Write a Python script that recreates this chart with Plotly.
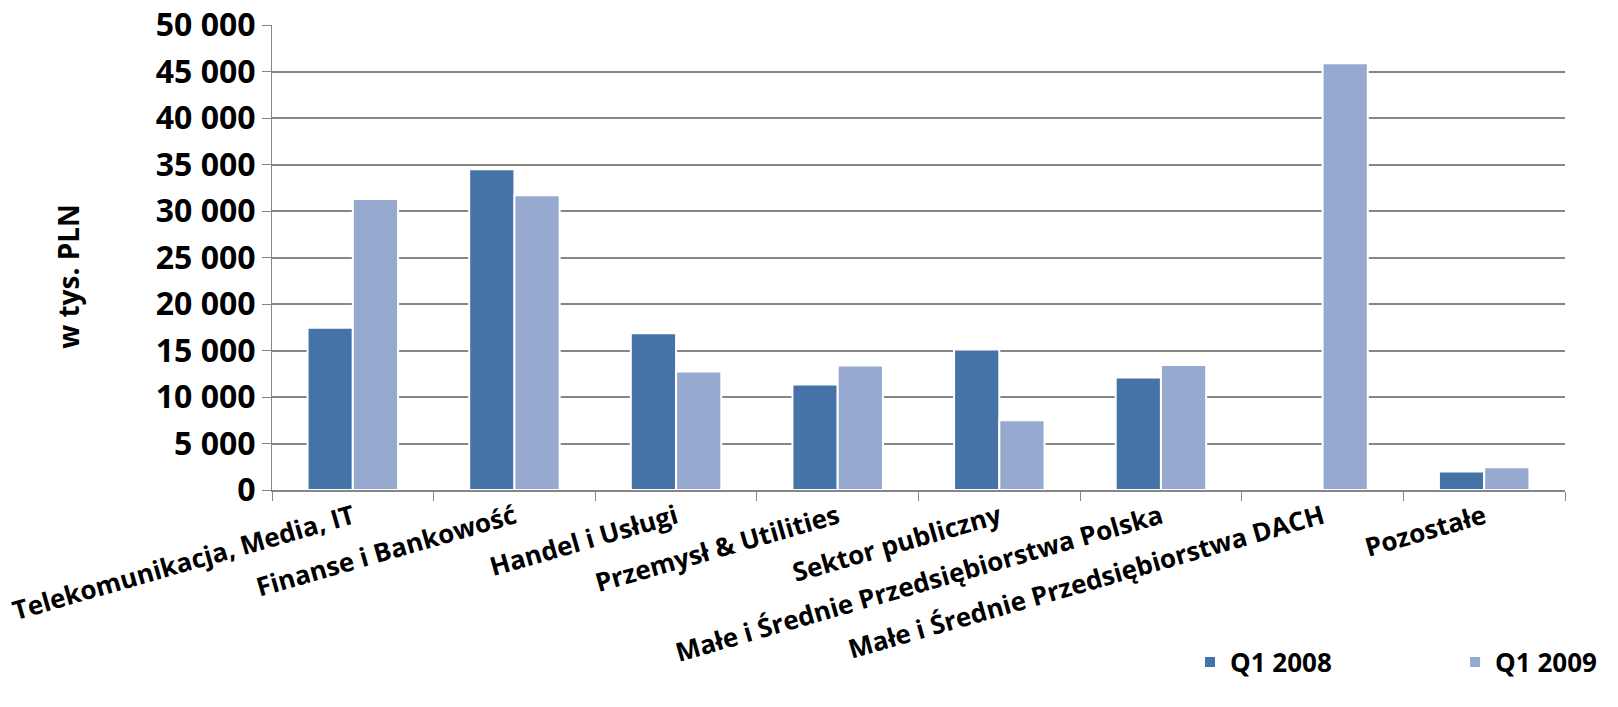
import plotly.graph_objects as go

categories = [
    "Telekomunikacja, Media, IT",
    "Finanse i Bankowość",
    "Handel i Usługi",
    "Przemysł & Utilities",
    "Sektor publiczny",
    "Małe i Średnie Przedsiębiorstwa Polska",
    "Małe i Średnie Przedsiębiorstwa DACH",
    "Pozostałe",
]
q1_2008 = [17450, 34500, 16850, 11350, 15100, 12100, None, 2000]
q1_2009 = [31300, 31700, 12750, 13400, 7500, 13450, 45900, 2450]
tick_vals = [0, 5000, 10000, 15000, 20000, 25000, 30000, 35000, 40000, 45000, 50000]
y_title = "w tys. PLN"

FONT = "Open Sans"
legend_font = dict(family=FONT, size=26, weight="bold", color="black")

fig = go.Figure()
fig.add_trace(go.Bar(
    name="Q1 2008", x=categories, y=q1_2008, legend="legend",
    marker=dict(color="#4673A7", line=dict(color="white", width=2)),
))
fig.add_trace(go.Bar(
    name="Q1 2009", x=categories, y=q1_2009, legend="legend2",
    marker=dict(color="#96AACF", line=dict(color="white", width=2)),
))

fig.add_annotation(
    text=y_title, xref="paper", yref="paper", x=-0.158, y=0.46,
    textangle=-90, showarrow=False, xanchor="center", yanchor="middle",
    font=dict(family=FONT, size=28, weight="bold", color="black"),
)

fig.update_layout(
    width=1618, height=707,
    margin=dict(l=272, r=53, t=25, b=217),
    paper_bgcolor="white", plot_bgcolor="white",
    barmode="group", bargap=0.44, bargroupgap=0.0,
    separators=", ",
    font=dict(family=FONT, color="black"),
    showlegend=True,
    legend=dict(
        orientation="h", x=0.71, xanchor="left", y=-0.37, yanchor="middle",
        font=legend_font, itemwidth=30,
    ),
    legend2=dict(
        orientation="h", x=0.915, xanchor="left", y=-0.37, yanchor="middle",
        font=legend_font, itemwidth=30,
    ),
    xaxis=dict(
        tickangle=-16,
        tickfont=dict(family=FONT, size=26, weight="bold", color="black"),
        showline=True, linecolor="#868686", linewidth=2,
        ticks="outside", ticklen=9, tickcolor="#868686", tickwidth=1,
        tickson="boundaries",
        showgrid=False, automargin=False,
    ),
    yaxis=dict(
        range=[0, 50000],
        tickvals=tick_vals, tickformat=",d",
        tickfont=dict(family=FONT, size=32, weight="bold", color="black"),
        showline=True, linecolor="#868686", linewidth=1,
        ticks="outside", ticklen=9, tickcolor="#868686",
        showgrid=True, gridcolor="#868686", gridwidth=2,
        zeroline=False, automargin=False,
    ),
)

fig.write_html(
    "out.html",
    config={"displayModeBar": False},
    post_script="document.body.style.margin='0';document.body.style.overflow='hidden';",
)
